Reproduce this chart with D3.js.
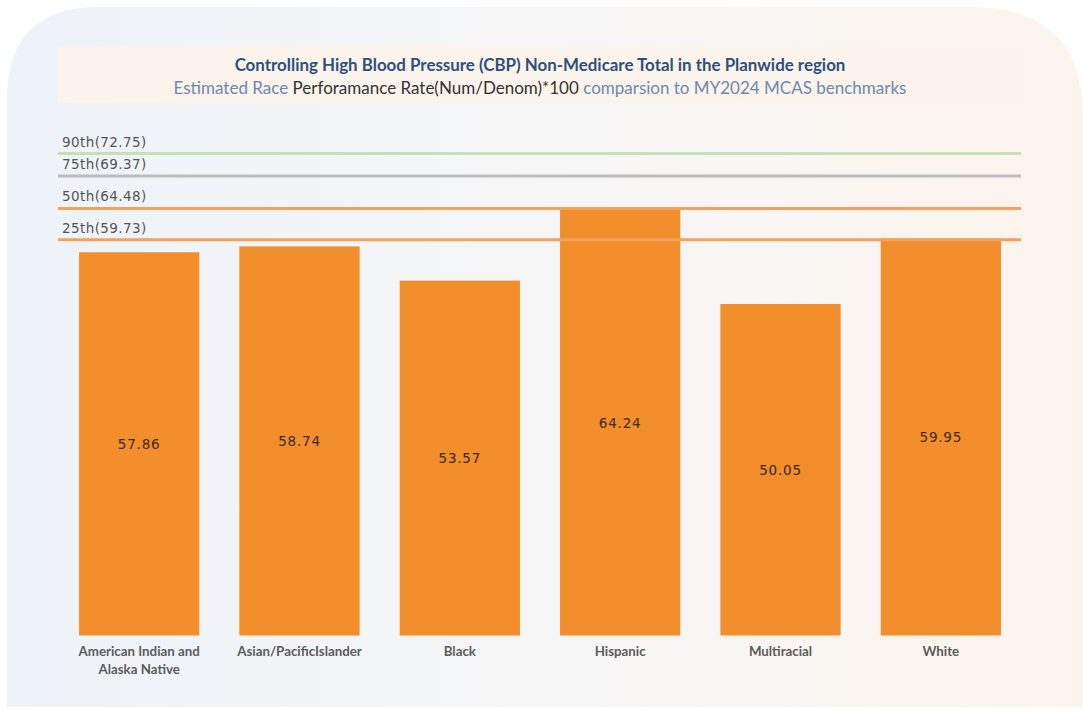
<!DOCTYPE html>
<html>
<head>
<meta charset="utf-8">
<script src="https://cdn.jsdelivr.net/npm/d3@7"></script>
<style>
 body{margin:0;background:#fff;}
 svg{display:block;font-family:Lato,"Open Sans",sans-serif;}
</style>
</head>
<body>
<div id="chart"></div>
<script>
const races=['American Indian and Alaska Native','Asian/PacificIslander','Black','Hispanic','Multiracial','White'];
const rates=[57.86,58.74,53.57,64.24,50.05,59.95];
const benchNames=['90th','75th','50th','25th'];
const benchValues=[72.75,69.37,64.48,59.73];
const benchColors=['#c7e1b6','#bdbcbc','#f3a15c','#f3a15c'];

(function(){
 const W=1083,H=710;
 const svg=d3.select('#chart').append('svg').attr('width',W).attr('height',H);
 const defs=svg.append('defs');
 const grad=defs.append('linearGradient').attr('id','bg').attr('x1','0').attr('x2','1').attr('y1','0').attr('y2','0');
 grad.append('stop').attr('offset','0%').attr('stop-color','#eef3f9');
 grad.append('stop').attr('offset','55%').attr('stop-color','#f7f6f6');
 grad.append('stop').attr('offset','100%').attr('stop-color','#fcf4ec');

 // card with big rounded top corners
 const x0=7,y0=7,x1=1083,y1=707,rl=92,rr=112;
 svg.append('path').attr('fill','url(#bg)')
   .attr('d',`M${x0},${y1}L${x0},${y0+rl}Q${x0},${y0} ${x0+rl},${y0}L${x1-rr},${y0}Q${x1},${y0} ${x1},${y0+rr}L${x1},${y1}Z`);

 // title box
 svg.append('rect').attr('x',58).attr('y',46).attr('width',962).attr('height',57).attr('fill','#fbf4ec');
 svg.append('text').attr('x',540).attr('y',71).attr('text-anchor','middle')
   .attr('font-size',16.9).attr('font-weight','bold').attr('fill','#2f4f7c')
   .text('Controlling High Blood Pressure (CBP) Non-Medicare Total in the Planwide region');
 const sub=svg.append('text').attr('x',540).attr('y',94).attr('text-anchor','middle').attr('font-size',17);
 sub.append('tspan').attr('fill','#6e89ab').text('Estimated Race ');
 sub.append('tspan').attr('fill','#333').text('Perforamance Rate(Num/Denom)*100');
 sub.append('tspan').attr('fill','#6e89ab').text(' comparsion to MY2024 MCAS benchmarks');

 const x=d3.scaleBand().domain(races).range([59,1021]).paddingInner(0.25).paddingOuter(0.125);
 const y=d3.scaleLinear().domain([0,80]).range([635.5,105.6]);
 const g=svg.append('g');

 g.selectAll('rect.bar').data(rates).enter().append('rect').attr('class','bar')
   .attr('x',(d,i)=>x(races[i])).attr('width',x.bandwidth())
   .attr('y',d=>y(d)).attr('height',d=>y(0)-y(d)).attr('fill','#f28e2b');

 g.selectAll('text.val').data(rates).enter().append('text').attr('class','val')
   .attr('x',(d,i)=>x(races[i])+x.bandwidth()/2).attr('y',d=>(y(d)+y(0))/2+5)
   .attr('text-anchor','middle').attr('font-size',13.5).attr('fill','#3a2a1c')
   .attr('font-family','"DejaVu Sans",sans-serif').attr('letter-spacing',0.8)
   .text(d=>d.toFixed(2));

 // benchmark lines
 g.selectAll('line.bench').data(benchValues).enter().append('line').attr('class','bench')
   .attr('x1',58).attr('x2',1021).attr('y1',d=>y(d)).attr('y2',d=>y(d))
   .attr('stroke',(d,i)=>benchColors[i]).attr('stroke-width',3);
 g.selectAll('text.bench').data(benchValues).enter().append('text').attr('class','bench')
   .attr('x',62).attr('y',d=>y(d)-7).attr('font-size',13.5).attr('fill','#555')
   .attr('font-family','"DejaVu Sans",sans-serif').attr('letter-spacing',0.4)
   .text((d,i)=>`${benchNames[i]}(${d.toFixed(2)})`);

 // category labels
 const ax=g.append('g').attr('transform',`translate(0,${y(0)})`)
   .call(d3.axisBottom(x).tickSize(0).tickPadding(0));
 ax.select('.domain').remove();
 ax.selectAll('text').attr('font-size',13.3).attr('font-weight','bold').attr('fill','#5c5c5c')
   .attr('font-family','Lato,"Open Sans",sans-serif')
   .each(function(d){
     const t=d3.select(this);t.text(null).attr('y',0);
     const words=d.split(' ');let lines=[],cur='';
     words.forEach(w=>{const test=cur?cur+' '+w:w;if(test.length>20&&cur){lines.push(cur);cur=w;}else cur=test;});
     lines.push(cur);
     lines.forEach((l,i)=>t.append('tspan').attr('x',0).attr('dy',i?18:20).text(l));
   });
})();
</script>
</body>
</html>
